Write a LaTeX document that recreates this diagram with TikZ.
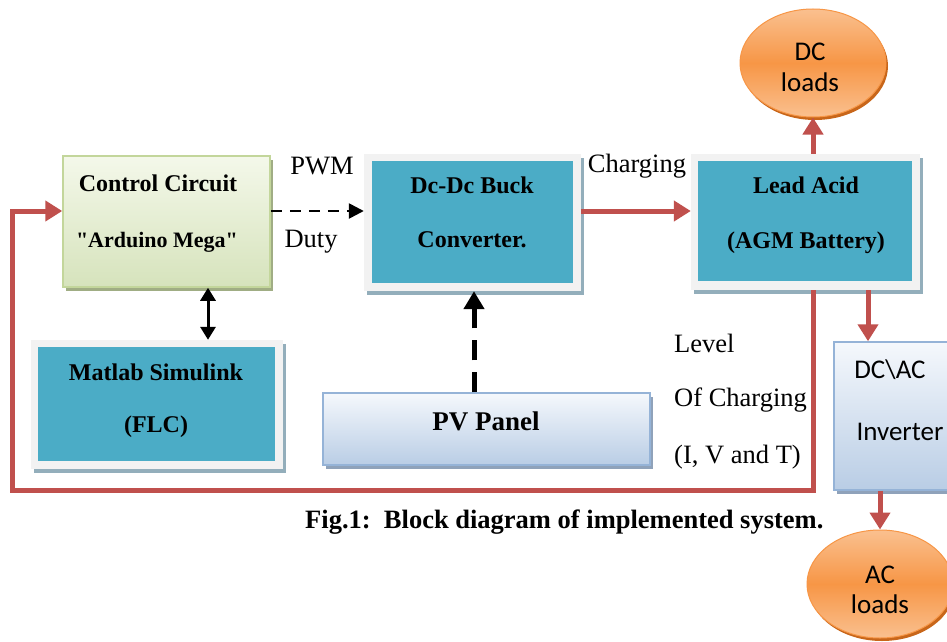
\documentclass[tikz,border=0pt]{standalone}
\usepackage{fontspec}
\setmainfont{Liberation Serif}
\newfontfamily\calib{Carlito}
\usetikzlibrary{arrows.meta,shapes.geometric,shadows}

\definecolor{bteal}{HTML}{4BACC6}
\definecolor{framegray}{HTML}{F2F2F2}
\definecolor{shadowteal}{HTML}{93AEBB}
\definecolor{redc}{HTML}{C0504D}
\definecolor{greentop}{HTML}{F4F8EA}
\definecolor{greenbot}{HTML}{D6E3BC}
\definecolor{greenedge}{HTML}{C3D69B}
\definecolor{greenshadow}{HTML}{A0AD84}
\definecolor{bluetop}{HTML}{F5F8FC}
\definecolor{bluebot}{HTML}{B9CDE5}
\definecolor{blueedge}{HTML}{95B3D7}
\definecolor{blueshadow}{HTML}{8FA2BA}
\definecolor{orangemid}{HTML}{F79646}
\definecolor{orangelight}{HTML}{FAC08F}
\definecolor{orangedark}{HTML}{C8661A}

\tikzset{
  boldlbl/.style={font=\fontsize{24}{28}\selectfont\bfseries, inner sep=0pt},
  plainlbl/.style={font=\fontsize{26.5}{30}\selectfont, inner sep=0pt},
  sanslbl/.style={font=\calib\fontsize{27}{31}\selectfont, inner sep=0pt},
  tealouter/.style={rectangle, fill=framegray, inner sep=0pt,
    drop shadow={shadow xshift=3pt, shadow yshift=-4pt, fill=shadowteal, opacity=1}},
  tealinner/.style={rectangle, fill=bteal, inner sep=0pt},
  greenbox/.style={rectangle, inner sep=0pt, top color=greentop, bottom color=greenbot,
    draw=greenedge, line width=1.5pt,
    drop shadow={shadow xshift=3pt, shadow yshift=-4pt, fill=greenshadow, opacity=1}},
  bluebox/.style={rectangle, inner sep=0pt, top color=bluetop, bottom color=bluebot,
    draw=blueedge, line width=1.5pt,
    drop shadow={shadow xshift=3pt, shadow yshift=-4pt, fill=blueshadow, opacity=1}},
  loadball/.style={ellipse, inner sep=0pt, minimum width=146pt, minimum height=108pt,
    top color=orangelight, bottom color=orangelight, middle color=orangemid,
    draw=orangemid, line width=1pt,
    drop shadow={shadow xshift=2pt, shadow yshift=-3pt, fill=orangedark, opacity=1}},
  redarrow/.style={draw=redc, line width=5pt, -{Triangle[length=17pt,width=20pt]}},
  pwmarrow/.style={draw=black, line width=2.5pt, dash pattern=on 11pt off 8pt,
    -{Triangle[length=15pt,width=15pt]}},
  pvarrow/.style={draw=black, line width=5pt, dash pattern=on 20pt off 12pt,
    -{Triangle[length=18pt,width=20pt]}},
  linkarrow/.style={draw=black, line width=3pt,
    {Triangle[length=13pt,width=15pt]}-{Triangle[length=13pt,width=15pt]}}
}

\begin{document}
\begin{tikzpicture}[x=1pt, y=-1pt]
\clip (0,0) rectangle (947,642);
\fill[white] (0,0) rectangle (947,642);

% control circuit
\node[greenbox, minimum width=207pt, minimum height=131pt] (cc) at (166.5,221.5) {};
\node[boldlbl] (ccA) at (158,183) {Control Circuit};
\node[boldlbl, font=\fontsize{22}{26}\selectfont\bfseries] (ccB) at (157,242)
  {\textquotedbl Arduino Mega\textquotedbl};

% matlab simulink
\node[tealouter, minimum width=252pt, minimum height=129pt] (ml) at (157,404.5) {};
\node[tealinner, minimum width=237pt, minimum height=114pt] (mlin) at (156.5,404) {};
\node[boldlbl] (mlA) at (156,372) {Matlab Simulink};
\node[boldlbl] (mlB) at (156,427) {(FLC)};

% dc-dc buck converter
\node[tealouter, minimum width=217pt, minimum height=137pt] (buck) at (472.5,222.5) {};
\node[tealinner, minimum width=201pt, minimum height=122pt] (buckin) at (472.5,222) {};
\node[boldlbl] (buckA) at (472,185) {Dc-Dc Buck};
\node[boldlbl] (buckB) at (472,240) {Converter.};

% lead acid battery
\node[tealouter, minimum width=229pt, minimum height=136pt] (batt) at (805.5,222) {};
\node[tealinner, minimum width=214pt, minimum height=120pt] (battin) at (805,221) {};
\node[boldlbl] (battA) at (806,185) {Lead Acid};
\node[boldlbl] (battB) at (806,243) {(AGM Battery)};

% pv panel
\node[bluebox, minimum width=327pt, minimum height=72pt] (pv) at (486.5,429) {};
\node[boldlbl, font=\fontsize{27}{31}\selectfont\bfseries] (pvA) at (486,421) {PV Panel};

% inverter
\node[bluebox, minimum width=126pt, minimum height=148pt] (inv) at (897,416) {};
\node[sanslbl] (invA) at (890,370) {DC\textbackslash AC};
\node[sanslbl] (invB) at (900,432) {Inverter};

% loads
\node[loadball] (dcl) at (813,63) {};
\node[sanslbl] (dclA) at (810,52) {DC};
\node[sanslbl] (dclB) at (810,82) {loads};
\node[loadball] (acl) at (880,584) {};
\node[sanslbl] (aclA) at (880,575) {AC};
\node[sanslbl] (aclB) at (880,604) {loads};

% connectors
\draw[pwmarrow] (cc.east |- 0,211) -- (buck.west |- 0,211);
\draw[redarrow] (buck.east |- 0,211) -- (batt.west |- 0,211);
\draw[redarrow] (batt.north -| dcl.south) -- (dcl.south);
\draw[pvarrow] (pv.north -| 474,0) -- (buck.south -| 474,0);
\draw[linkarrow] (cc.south -| 208,0) -- (ml.north -| 208,0);
\draw[redarrow] (batt.south -| 868,0) -- (inv.north -| 868,0);
\draw[redarrow] (inv.south -| acl.north) -- (acl.north);
\coordinate (fbA) at (813,490);
\coordinate (fbB) at (12,490);
\coordinate (fbC) at (12,211);
\draw[redarrow, line join=miter] (batt.south -| fbA) -- (fbA) -- (fbB) -- (fbC) -- (cc.west |- fbC);

% signal labels
\node[plainlbl] (pwm) at (322,166) {PWM};
\node[plainlbl] (duty) at (311,242) {Duty};
\node[plainlbl] (chg) at (637,166) {Charging};
\node[plainlbl, anchor=west] (lvlA) at (674,343) {Level};
\node[plainlbl, anchor=west] (lvlB) at (674,400) {Of Charging};
\node[plainlbl, anchor=west] (lvlC) at (674,457) {(I, V and T)};

% caption
\node[boldlbl, font=\fontsize{26.5}{30}\selectfont\bfseries, anchor=west] (cap) at (305,522)
  {Fig.1:\ \ Block diagram of implemented system.};
\end{tikzpicture}
\end{document}
